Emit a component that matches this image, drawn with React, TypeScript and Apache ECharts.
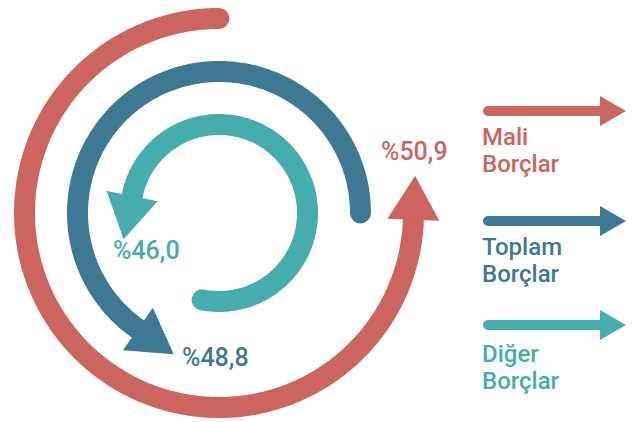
import React, { useEffect, useRef } from "react";
import * as echarts from "echarts";

// Series (outer ring first)
const categories = ["Mali Borçlar", "Toplam Borçlar", "Diğer Borçlar"];
const legendLines = [
  ["Mali", "Borçlar"],
  ["Toplam", "Borçlar"],
  ["Diğer", "Borçlar"],
];
const values = [50.9, 48.8, 46.0];
// arc sweep in degrees (counter-clockwise, 0 = 3 o'clock)
const arcStart = [90, 0, 259];
const arcEnd = [358, 235, 529];

const colors = ["#CC655F", "#3D7993", "#46ADAD"];

const fmt = (v: number) => "%" + v.toFixed(1).replace(".", ",");

export default function App() {
  const ref = useRef<HTMLDivElement>(null);
  useEffect(() => {
    if (!ref.current) return;
    const chart = echarts.init(ref.current, undefined, { renderer: "svg" });
    const ringOrder = [...categories].reverse();
    const data = categories.map((c, i) => [c, arcStart[i], arcEnd[i], values[i]]);

    const labelPos = [
      [381, 154],
      [182, 360],
      [113, 253],
    ];
    const legendY = [111, 221, 325];
    const legendTextY = [
      [137, 163.5],
      [247, 274],
      [354, 381],
    ];

    const graphic: any[] = [];
    categories.forEach((c, i) => {
      graphic.push({
        type: "text",
        left: labelPos[i][0],
        top: labelPos[i][1] - 15,
        style: {
          text: fmt(values[i]),
          fill: colors[i],
          font: "500 25px Roboto",
        },
      });
      graphic.push({
        type: "line",
        shape: { x1: 488, y1: legendY[i], x2: 604, y2: legendY[i] },
        style: { stroke: colors[i], lineWidth: 10, lineCap: "round" },
      });
      graphic.push({
        type: "polygon",
        shape: {
          points: [
            [600, legendY[i] - 15],
            [626, legendY[i]],
            [600, legendY[i] + 15],
          ],
        },
        style: { fill: colors[i] },
      });
      legendLines[i].forEach((t, k) => {
        graphic.push({
          type: "text",
          x: 482,
          y: legendTextY[i][k],
          style: {
            text: t,
            fill: colors[i],
            font: "500 24px Roboto",
            verticalAlign: "middle",
            align: "left",
          },
        });
      });
    });

    chart.setOption({
      animation: false,
      polar: { center: [219, 213], radius: [62, 221] },
      angleAxis: {
        type: "value",
        min: 0,
        max: 360,
        startAngle: 0,
        clockwise: false,
        show: false,
      },
      radiusAxis: { type: "category", data: ringOrder, show: false },
      graphic,
      series: [
        {
          type: "custom",
          coordinateSystem: "polar",
          encode: { radius: 0, angle: [1, 2] },
          data,
          renderItem: (params: any, api: any) => {
            const ring = api.value(0);
            const a0 = api.value(1);
            const a1 = api.value(2);
            const pts: number[][] = [];
            for (let a = a0; a < a1; a += 1) pts.push(api.coord([ring, a % 360]));
            const end = api.coord([ring, a1 % 360]);
            pts.push(end);
            const prev = api.coord([ring, (a1 - 0.5) % 360]);
            let tx = end[0] - prev[0];
            let ty = end[1] - prev[1];
            const len = Math.hypot(tx, ty) || 1;
            tx /= len;
            ty /= len;
            const nx = -ty;
            const ny = tx;
            const color = colors[params.dataIndex];
            return {
              type: "group",
              children: [
                {
                  type: "polyline",
                  shape: { points: pts },
                  style: {
                    fill: "none",
                    stroke: color,
                    lineWidth: 21,
                    lineCap: "round",
                    lineJoin: "round",
                  },
                },
                {
                  type: "polygon",
                  shape: {
                    points: [
                      [end[0] + nx * 26, end[1] + ny * 26],
                      [end[0] - nx * 26, end[1] - ny * 26],
                      [end[0] + tx * 44, end[1] + ty * 44],
                    ],
                  },
                  style: { fill: color },
                },
              ],
            };
          },
        },
      ],
    });
    return () => chart.dispose();
  }, []);
  return (
    <div
      ref={ref}
      style={{ position: "fixed", left: 0, top: 0, width: 637, height: 422, background: "#fff" }}
    />
  );
}
